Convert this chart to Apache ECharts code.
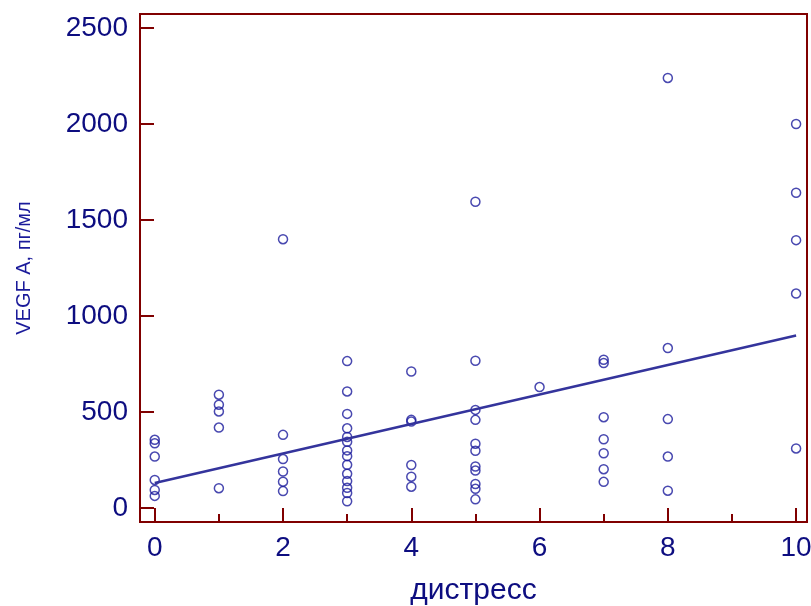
<!DOCTYPE html>
<html>
<head>
<meta charset="utf-8">
<script src="https://cdn.jsdelivr.net/npm/echarts@6/dist/echarts.min.js"></script>
<style>html,body{margin:0;padding:0;background:#fff}#c{width:811px;height:606px}</style>
</head>
<body>
<div id="c"></div>
<script>
// Scatter values: x = distress score, y = VEGF A (pg/ml)
const x0 = [355, 337, 268, 146, 94, 63];
const x1 = [590, 538, 503, 419, 103];
const x2 = [1400, 381, 255, 190, 137, 88];
const x3 = [765, 607, 490, 415, 370, 345, 300, 270, 225, 178, 140, 105, 78, 35];
const x4 = [711, 459, 450, 224, 163, 111];
const x5 = [1595, 767, 511, 459, 335, 298, 216, 195, 125, 100, 45];
const x6 = [630];
const x7 = [772, 755, 473, 358, 285, 202, 136];
const x8 = [2240, 833, 463, 268, 90];
const x10 = [2000, 1642, 1395, 1117, 310];
const groups = [[0, x0], [1, x1], [2, x2], [3, x3], [4, x4], [5, x5], [6, x6], [7, x7], [8, x8], [10, x10]];

// Regression line endpoints
const fitX = [0, 10];
const fitY = [130, 898];

const xTickLabels = [0, 2, 4, 6, 8, 10];
const xMinorTicks = [1, 3, 5, 7, 9];
const yTickLabels = [0, 500, 1000, 1500, 2000, 2500];

const points = [];
groups.forEach(g => g[1].forEach(v => points.push([g[0], v])));
const fitLine = fitX.map((x, i) => [x, fitY[i]]);

const axisRed = '#800000';
const navy = '#0d0d80';
const font = 'Liberation Sans, Arial, sans-serif';
const plain = v => String(v);

const chart = echarts.init(document.getElementById('c'), null, {renderer: 'canvas'});
chart.setOption({
  animation: false,
  backgroundColor: '#fff',
  grid: {left: 140, right: 4, top: 14, bottom: 84, outerBoundsMode: 'none', containLabel: false,
         show: true, borderColor: axisRed, borderWidth: 2, backgroundColor: 'transparent'},
  xAxis: [{
    type: 'value', min: -0.23, max: 10.17, position: 'bottom',
    name: 'дистресс', nameLocation: 'middle', nameGap: 54,
    nameTextStyle: {color: navy, fontSize: 30, fontFamily: font},
    axisLine: {show: true, onZero: false, lineStyle: {color: axisRed, width: 2}},
    axisTick: {show: true, inside: true, length: 14, customValues: xTickLabels, lineStyle: {color: axisRed, width: 2}},
    axisLabel: {show: true, customValues: xTickLabels, formatter: plain, margin: 12, color: navy, fontSize: 28, fontFamily: font},
    splitLine: {show: false}
  }, {
    type: 'value', min: -0.23, max: 10.17, position: 'bottom',
    axisLine: {show: false, onZero: false},
    axisTick: {show: true, inside: true, length: 8, customValues: xMinorTicks, lineStyle: {color: axisRed, width: 2}},
    axisLabel: {show: false},
    splitLine: {show: false}
  }],
  yAxis: {
    type: 'value', min: -73, max: 2573,
    name: 'VEGF A, пг/мл', nameLocation: 'middle', nameGap: 106,
    nameTextStyle: {color: '#1a1a9a', fontSize: 20, fontFamily: font},
    axisLine: {show: true, onZero: false, lineStyle: {color: axisRed, width: 2}},
    axisTick: {show: true, inside: true, length: 14, customValues: yTickLabels, lineStyle: {color: axisRed, width: 2}},
    axisLabel: {show: true, customValues: yTickLabels, formatter: plain, margin: 12, color: navy, fontSize: 28, fontFamily: font},
    splitLine: {show: false}
  },
  series: [{
    type: 'scatter', data: points, symbol: 'circle', symbolSize: 9,
    itemStyle: {color: 'transparent', borderColor: '#1c1c9c', borderWidth: 1.5}
  }, {
    type: 'line', data: fitLine, symbol: 'none',
    lineStyle: {color: '#34349c', width: 2.5}
  }]
});
</script>
</body>
</html>
